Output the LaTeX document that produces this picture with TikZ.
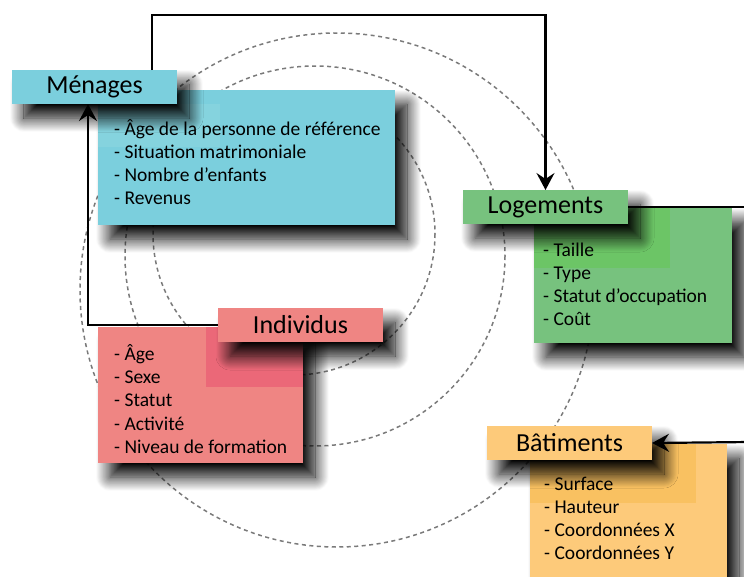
\documentclass[tikz,border=0pt]{standalone}
\usepackage{fontspec}
\setmainfont{Carlito}
\usepackage{tikz}
\usetikzlibrary{arrows.meta,shadows.blur}
\definecolor{bleuclair}{HTML}{7BCFDD}
\definecolor{vert}{HTML}{77C27E}
\definecolor{rose}{HTML}{EF8583}
\definecolor{jaune}{HTML}{FDCA7A}
\definecolor{bleupale}{HTML}{85D3DE}
\definecolor{vertvif}{HTML}{6CC566}
\definecolor{rosefonce}{HTML}{EB6878}
\definecolor{jaunefonce}{HTML}{F9C161}
\definecolor{gris}{HTML}{7A7A7A}

\begin{document}
\begin{tikzpicture}[x=1pt,y=-1pt,
  boite/.style={inner sep=0pt,outer sep=0pt,anchor=north west,
    blur shadow={shadow xshift=12pt,shadow yshift=-14pt,shadow blur radius=14pt,shadow blur steps=24,shadow opacity=100}},
  titre/.style={boite,minimum width=165pt,minimum height=34pt,font=\fontsize{26}{30}\selectfont},
  item/.style={inner sep=0pt,anchor=base west,font=\fontsize{19.5}{23}\selectfont},
  cercle/.style={gris,line width=1.5pt,dash pattern=on 4pt off 3.5pt},
  fleche/.style={line width=2.2pt,-{Stealth[length=17pt,width=18pt,inset=6pt]}}]
  \useasboundingbox (0,0) rectangle (744,576);
  \draw[cercle] (294,234) circle (141);
  \draw[cercle] (315,256) circle (190);
  \draw[cercle] (337,290) circle (257);

  \node[boite,fill=bleuclair,minimum width=297pt,minimum height=135pt] (menagescorps) at (98,90) {};
  \node[boite,fill=vert,minimum width=198pt,minimum height=135pt] (logementscorps) at (534,208) {};
  \node[boite,fill=rose,minimum width=205pt,minimum height=136pt] (individuscorps) at (98,327) {};
  \node[boite,fill=jaune,minimum width=197pt,minimum height=150pt] (batimentscorps) at (530,444) {};
  \fill[bleupale] (98,104) rectangle (220,147);
  \fill[vertvif] (534,208) rectangle (670,268);
  \fill[rosefonce] (206,327) rectangle (303,387);
  \fill[jaunefonce] (530,444) rectangle (696,503);

  \foreach \t [count=\i from 0] in {Âge de la personne de référence,Situation matrimoniale,Nombre d’enfants,Revenus}
    \node[item] (menages-\i) at (114,135+23.3*\i) {- \t};
  \foreach \t [count=\i from 0] in {Taille,Type,Statut d’occupation,Coût}
    \node[item] (logements-\i) at (543,256+23.3*\i) {- \t};
  \foreach \t [count=\i from 0] in {Âge,Sexe,Statut,Activité,Niveau de formation}
    \node[item] (individus-\i) at (114,360+23.4*\i) {- \t};
  \foreach \t [count=\i from 0] in {Surface,Hauteur,Coordonnées X,Coordonnées Y}
    \node[item] (batiments-\i) at (544,490+23.3*\i) {- \t};

  \node[titre,fill=bleuclair] (menages) at (12,70) {Ménages};
  \node[titre,fill=vert] (logements) at (463,190) {Logements};
  \node[titre,fill=rose] (individus) at (218,308) {Individus};
  \node[titre,fill=jaune] (batiments) at (487,426) {Bâtiments};

  \coordinate (bordlog) at (750,207);
  \coordinate (bordbat) at (750,442);
  \draw[fleche] ([xshift=57.5pt]menages.north) -- ++(0,-55) -| (logements.north);
  \draw[fleche] (individus.west) -| ([xshift=-6.5pt]menages.south);
  \draw[line width=2.2pt] (logements.east) -- (bordlog);
  \draw[fleche] (bordbat) -- (batiments.east);
\end{tikzpicture}
\end{document}
